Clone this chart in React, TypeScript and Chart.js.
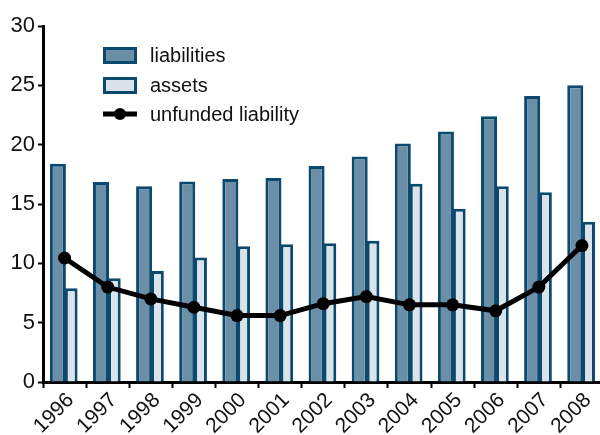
import React, { useEffect, useRef } from "react";
import { Chart, registerables } from "chart.js";

Chart.register(...registerables);

const years = ["1996","1997","1998","1999","2000","2001","2002","2003","2004","2005","2006","2007","2008"];
const liabilities = [18.4, 16.85, 16.5, 16.9, 17.1, 17.2, 18.2, 19.0, 20.1, 21.1, 22.4, 24.1, 25.0];
const assets = [7.9, 8.75, 9.35, 10.5, 11.45, 11.6, 11.7, 11.9, 16.7, 14.6, 16.5, 16.0, 13.5];
const unfunded = [10.45, 8.0, 7.0, 6.3, 5.6, 5.6, 6.6, 7.2, 6.5, 6.5, 6.0, 8.0, 11.5];
const yTicks = [0, 5, 10, 15, 20, 25, 30];

const DARK = "#0b4a6e";
const LIAB_FILL = "#6a8fa7";
const ASSET_FILL = "#dbe3ea";
const FONT = "'Liberation Sans', Arial, sans-serif";

const legendPlugin = {
  id: "customLegend",
  afterDatasetsDraw(chart: any) {
    const ctx = chart.ctx;
    ctx.save();
    const x0 = 103, w = 34, h = 17;
    const rows = [55.5, 85.5, 114];
    ctx.font = `20px ${FONT}`;
    ctx.textBaseline = "middle";
    ctx.strokeStyle = DARK;
    ctx.lineWidth = 3;
    ctx.fillStyle = LIAB_FILL;
    ctx.fillRect(x0, rows[0] - h / 2, w, h);
    ctx.strokeRect(x0 + 1.5, rows[0] - h / 2 + 1.5, w - 3, h - 3);
    ctx.fillStyle = ASSET_FILL;
    ctx.fillRect(x0, rows[1] - h / 2, w, h);
    ctx.strokeRect(x0 + 1.5, rows[1] - h / 2 + 1.5, w - 3, h - 3);
    ctx.strokeStyle = "#000";
    ctx.lineWidth = 5;
    ctx.beginPath();
    ctx.moveTo(x0, rows[2]);
    ctx.lineTo(x0 + w, rows[2]);
    ctx.stroke();
    ctx.fillStyle = "#000";
    ctx.beginPath();
    ctx.arc(x0 + w / 2, rows[2], 6, 0, Math.PI * 2);
    ctx.fill();
    ctx.fillStyle = "#111";
    const labels = chart.data.datasets.map((d: any) => d.label);
    ctx.fillText(labels[0], 150, rows[0] + 1);
    ctx.fillText(labels[1], 150, rows[1] + 1);
    ctx.fillText(labels[2], 150, rows[2] + 1);
    ctx.restore();
  },
};

export default function App() {
  const ref = useRef<HTMLCanvasElement>(null);
  useEffect(() => {
    if (!ref.current) return;
    const chart = new Chart(ref.current, {
      type: "bar",
      data: {
        labels: years,
        datasets: [
          {
            type: "bar",
            label: "liabilities",
            data: liabilities,
            backgroundColor: LIAB_FILL,
            borderColor: DARK,
            borderWidth: 3,
            order: 2,
            categoryPercentage: 0.62,
            barPercentage: 1.2,
          },
          {
            type: "bar",
            label: "assets",
            data: assets,
            backgroundColor: ASSET_FILL,
            borderColor: DARK,
            borderWidth: 3,
            order: 2,
            categoryPercentage: 0.62,
            barPercentage: 0.95,
          },
          {
            type: "line",
            label: "unfunded liability",
            data: unfunded,
            borderColor: "#000",
            backgroundColor: "#000",
            borderWidth: 5,
            pointRadius: 6.5,
            pointBackgroundColor: "#000",
            pointBorderWidth: 0,
            tension: 0,
            order: 0,
          } as any,
        ],
      },
      options: {
        responsive: false,
        animation: false,
        devicePixelRatio: 1,
        layout: { padding: { top: 26, right: 4, left: 0, bottom: 0 } },
        plugins: { legend: { display: false }, tooltip: { enabled: false } },
        scales: {
          x: {
            offset: true,
            grid: {
              offset: true,
              drawOnChartArea: false,
              drawTicks: true,
              tickLength: 6,
              tickColor: "#000",
              tickWidth: 2,
            },
            border: { display: true, color: "#000", width: 3 },
            ticks: {
              color: "#111",
              font: { family: FONT, size: 21 },
              minRotation: 45,
              maxRotation: 45,
              padding: 0,
              labelOffset: 6,
            },
            afterFit(scale: any) {
              scale.height = 53;
            },
          },
          y: {
            min: 0,
            max: 30,
            afterBuildTicks(scale: any) {
              scale.ticks = yTicks.map((v) => ({ value: v }));
            },
            grid: {
              drawOnChartArea: false,
              drawTicks: true,
              tickLength: 5,
              tickColor: "#000",
              tickWidth: 2,
            },
            border: { display: true, color: "#000", width: 3 },
            ticks: {
              color: "#111",
              font: { family: FONT, size: 22 },
              padding: 3,
            },
            afterFit(scale: any) {
              scale.width = 43;
            },
          },
        },
      },
      plugins: [legendPlugin],
    });
    return () => chart.destroy();
  }, []);
  return (
    <div style={{ position: "fixed", left: 0, top: 0, width: 600, height: 435, overflow: "hidden", background: "#fff" }}>
      <canvas ref={ref} width={610} height={435} style={{ display: "block" }} />
    </div>
  );
}
